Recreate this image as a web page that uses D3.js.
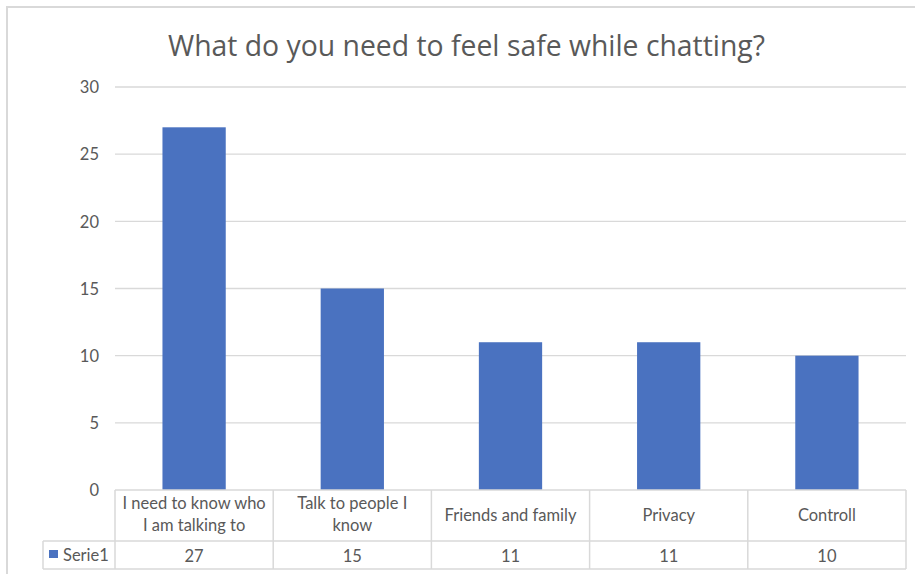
<!DOCTYPE html>
<html><head><meta charset="utf-8">
<script src="https://cdn.jsdelivr.net/npm/d3@7"></script>
<style>
html,body{margin:0;padding:0;background:#fff;}
svg{display:block;}
</style></head>
<body>
<svg id="chart" width="915" height="574"></svg>
<script>
const title = "What do you need to feel safe while chatting?";
const categories = [["I need to know who","I am talking to"],["Talk to people I","know"],["Friends and family"],["Privacy"],["Controll"]];
const values = [27, 15, 11, 11, 10];
const seriesName = "Serie1";
const yTicks = [0, 5, 10, 15, 20, 25, 30];

(function () {
const svg = d3.select("#chart");
const pLeft = 115, pRight = 906, pTop = 87, pBottom = 490;
const grid = "#d9d9d9", textC = "#595959", barC = "#4a72c0";
const font = "Lato, 'Open Sans', sans-serif";
const fs = 16.5;

// outer chart border
svg.append("rect").attr("x", 7).attr("y", 7).attr("width", 940).attr("height", 600)
  .attr("fill", "#fff").attr("stroke", grid).attr("stroke-width", 2);

const x = d3.scaleBand().domain(d3.range(values.length)).range([pLeft, pRight]).paddingInner(0).paddingOuter(0);
const y = d3.scaleLinear().domain([0, 30]).range([pBottom, pTop]);

// title
svg.append("text").attr("x", 466.5).attr("y", 56).attr("text-anchor", "middle")
  .attr("font-family", "'Open Sans', sans-serif").attr("font-size", 29).attr("fill", textC)
  .attr("textLength", 597).attr("lengthAdjust", "spacingAndGlyphs")
  .text(title);

// gridlines
svg.append("g").selectAll("line").data(yTicks.filter(d => d > 0)).join("line")
  .attr("x1", pLeft).attr("x2", pRight).attr("y1", d => y(d)).attr("y2", d => y(d))
  .attr("stroke", grid).attr("stroke-width", 1.3);

// y axis labels
const yAxis = d3.axisLeft(y).tickValues(yTicks).tickSize(0).tickPadding(0);
const ga = svg.append("g").attr("transform", "translate(99,0)").call(yAxis);
ga.select(".domain").remove();
ga.selectAll("text").attr("font-family", font).attr("font-size", fs).attr("fill", textC).attr("dy", "0.35em");

// bars
const bw = x.bandwidth() * 0.4;
svg.append("g").selectAll("rect").data(values).join("rect")
  .attr("x", (d, i) => x(i) + (x.bandwidth() - bw) / 2)
  .attr("y", d => y(d)).attr("width", bw).attr("height", d => y(0) - y(d))
  .attr("fill", barC);

// data table
const rowMid = 541, tBottom = 569, tLeft = 43;
const tg = svg.append("g").attr("stroke", grid).attr("stroke-width", 1.5).attr("fill", "none");
tg.append("line").attr("x1", pLeft).attr("x2", pRight).attr("y1", pBottom).attr("y2", pBottom);
tg.append("line").attr("x1", tLeft).attr("x2", pRight).attr("y1", rowMid).attr("y2", rowMid);
tg.append("line").attr("x1", tLeft).attr("x2", pRight).attr("y1", tBottom).attr("y2", tBottom);
tg.append("line").attr("x1", tLeft).attr("x2", tLeft).attr("y1", rowMid).attr("y2", tBottom);
const bounds = d3.range(values.length + 1).map(i => i < values.length ? x(i) : pRight);
tg.selectAll("line.v").data(bounds).join("line").attr("class", "v")
  .attr("x1", d => d).attr("x2", d => d).attr("y1", pBottom).attr("y2", tBottom);

// category labels
const cg = svg.append("g");
categories.forEach((lines, i) => {
  const cx = x(i) + x.bandwidth() / 2;
  const n = lines.length;
  lines.forEach((ln, j) => {
    const cy = n === 1 ? 515 : (j === 0 ? 503 : 525);
    cg.append("text").attr("x", cx).attr("y", cy).attr("dy", "0.35em")
      .attr("text-anchor", "middle").attr("font-family", font).attr("font-size", fs)
      .attr("fill", textC).text(ln);
  });
});

// values row
svg.append("g").selectAll("text").data(values).join("text")
  .attr("x", (d, i) => x(i) + x.bandwidth() / 2).attr("y", 556).attr("dy", "0.35em")
  .attr("text-anchor", "middle").attr("font-family", font).attr("font-size", fs)
  .attr("fill", textC).text(d => d);

// legend key
svg.append("rect").attr("x", 49).attr("y", 550).attr("width", 9).attr("height", 8).attr("fill", barC);
svg.append("text").attr("x", 63).attr("y", 555).attr("dy", "0.35em")
  .attr("font-family", font).attr("font-size", fs).attr("fill", textC).text(seriesName);
})();
</script>
</body></html>
